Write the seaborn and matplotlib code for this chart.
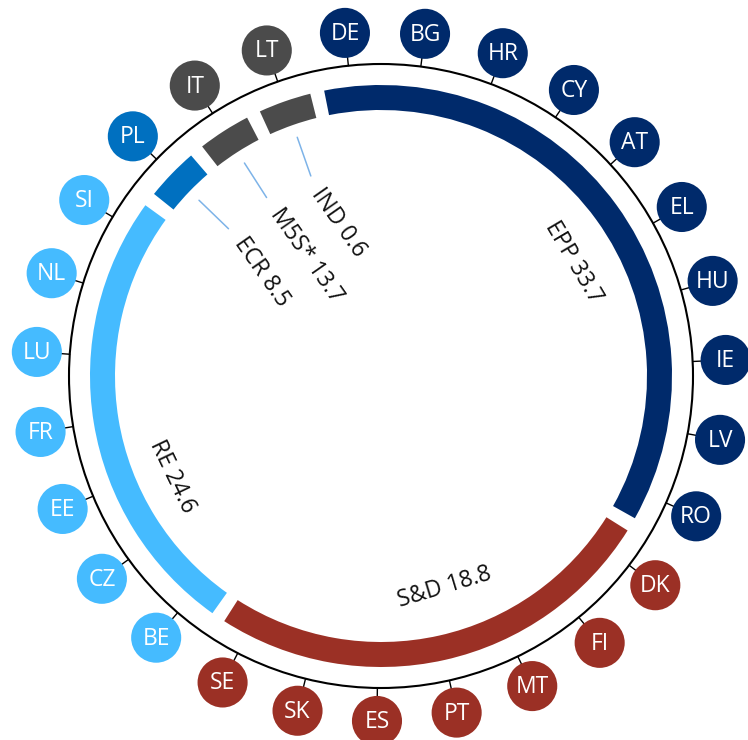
import numpy as np
import pandas as pd
import matplotlib
matplotlib.use("Agg")
import matplotlib.pyplot as plt
import seaborn as sns
from matplotlib.patches import Wedge, Circle

# ---------------- data ----------------
countries = ["DE", "BG", "HR", "CY", "AT", "EL", "HU", "IE", "LV", "RO",
             "DK", "FI", "MT", "PT", "ES", "SK", "SE",
             "BE", "CZ", "EE", "FR", "LU", "NL", "SI",
             "PL", "IT", "LT"]
country_group = ["EPP", "EPP", "EPP", "EPP", "EPP", "EPP", "EPP", "EPP", "EPP", "EPP",
                 "S&D", "S&D", "S&D", "S&D", "S&D", "S&D", "S&D",
                 "RE", "RE", "RE", "RE", "RE", "RE", "RE",
                 "ECR", "M5S*", "IND"]
groups = ["EPP", "S&D", "RE", "ECR", "M5S*", "IND"]
group_share = [33.7, 18.8, 24.6, 8.5, 13.7, 0.6]
group_colors = ["#002A6B", "#9B3025", "#45BBFF", "#0070C0", "#4B4B4B", "#4B4B4B"]

# ---------------- styling / layout ----------------
sns.set_theme(style="white")
plt.rcParams["font.family"] = ["Open Sans", "DejaVu Sans"]

W, H = 748, 740
CX, CY = 381, 376            # circle centre in pixels
fig = plt.figure(figsize=(W / 100, H / 100), dpi=100)
ax = fig.add_axes([0, 0, 1, 1])
ax.set_xlim(-CX, W - CX)
ax.set_ylim(-(H - CY), CY)
ax.set_aspect("equal")
ax.axis("off")

palette = dict(zip(groups, group_colors))
n = len(countries)
step = 360.0 / n
offset = -6.0

def polar(theta, r):
    t = np.deg2rad(theta)
    return r * np.sin(t), r * np.cos(t)

R_RING = 312
R_BUB = 345
R_ARC_OUT, ARC_W = 291, 25
GAP = 2.8

df = pd.DataFrame({"country": countries, "group": country_group})
df["theta"] = offset + np.arange(n) * step
df["x"], df["y"] = polar(df["theta"].values, R_BUB)

# ring
ax.add_patch(Circle((0, 0), R_RING, fill=False, lw=1.5, ec="black", zorder=2))

# ticks
for th in df["theta"]:
    x0, y0 = polar(th, R_RING)
    x1, y1 = polar(th, R_BUB - 23)
    ax.plot([x0, x1], [y0, y1], color="black", lw=1.0, zorder=1)

# country bubbles
sns.scatterplot(data=df, x="x", y="y", hue="group", palette=palette,
                s=1300, linewidth=0, legend=False, ax=ax, zorder=3)
for _, row in df.iterrows():
    ax.text(row.x, row.y - 1, row.country, color="white", ha="center", va="center",
            fontsize=16.5, zorder=4)

# group arcs
for g, share, col in zip(groups, group_share, group_colors):
    idx = np.where(df["group"].values == g)[0]
    start = offset + (idx.min() - 0.5) * step + GAP / 2
    end = offset + (idx.max() + 0.5) * step - GAP / 2
    ax.add_patch(Wedge((0, 0), R_ARC_OUT, 90 - end, 90 - start, width=ARC_W,
                       facecolor=col, edgecolor="none", zorder=2))

# group labels
big_label = {"EPP": (59.4, 224), "S&D": (163.2, 221), "RE": (244.4, 232)}
for g, share in zip(groups, group_share):
    if g in big_label:
        th, r = big_label[g]
        x, y = polar(th, r)
        rot = 180 - th if 90 < th < 270 else -th
        ax.text(x, y, f"{g} {share}", ha="center", va="center", rotation=rot,
                rotation_mode="anchor", fontsize=16.5, color="#111111")
    else:
        idx = np.where(df["group"].values == g)[0]
        th = df["theta"].values[idx].mean()
        x0, y0 = polar(th, 253)
        x1, y1 = polar(th, 212)
        ax.plot([x0, x1], [y0, y1], color="#7DB3E8", lw=1.1, zorder=2)
        xt, yt = polar(th, 197)
        ax.text(xt, yt, f"{g} {share}", ha="left", va="center", rotation=-55,
                rotation_mode="anchor", fontsize=16.5, color="#111111")

fig.savefig("out.png", dpi=100)
